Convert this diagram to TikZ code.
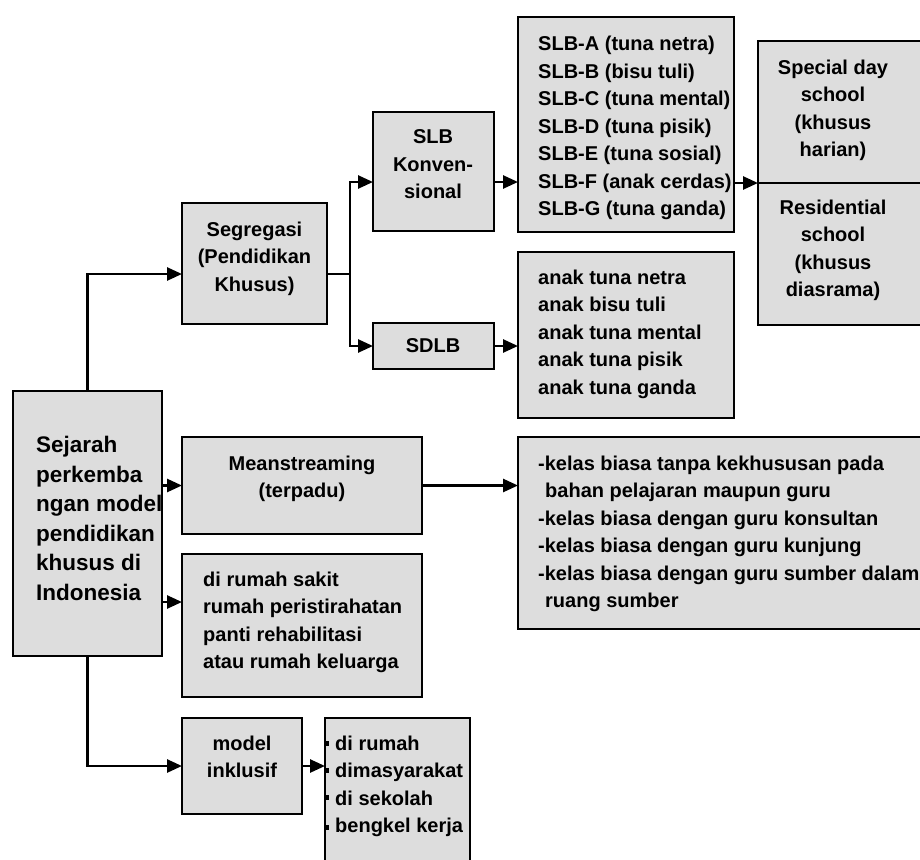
\documentclass[tikz,border=0pt]{standalone}
\usepackage{fontspec}
\setmainfont{Liberation Sans}
\usetikzlibrary{arrows.meta}
\definecolor{boxgray}{RGB}{221,221,221}
\begin{document}
\begin{tikzpicture}[x=1pt,y=-1pt,
  box/.style={draw=black,line width=2pt,fill=boxgray,inner sep=0pt,outer sep=0pt,anchor=north west},
  txt/.style={inner sep=0pt,font=\fontsize{20}{27.5}\selectfont\bfseries},
  bigtxt/.style={inner sep=0pt,font=\fontsize{22.5}{29.5}\selectfont\bfseries},
  conn/.style={line width=2.6pt,-{Triangle[length=15pt,width=13pt]}},
  wire/.style={line width=2.6pt}]
\useasboundingbox (0,0) rectangle (920,859);
\clip (0,0) rectangle (920,859);
\fill[white] (0,0) rectangle (920,859);

% boxes
\node[box,minimum width=149pt,minimum height=265pt] (main) at (13,391) {};
\node[box,minimum width=145pt,minimum height=121pt] (seg) at (182,203) {};
\node[box,minimum width=121pt,minimum height=119pt] (konv) at (373,112) {};
\node[box,minimum width=121pt,minimum height=46pt] (sdlb) at (373,323) {};
\node[box,minimum width=216pt,minimum height=215pt] (slb) at (518,17) {};
\node[box,minimum width=216pt,minimum height=166pt] (anak) at (518,252) {};
\node[box,minimum width=220pt,minimum height=284pt] (sp) at (758,41) {};
\node[box,minimum width=240pt,minimum height=97pt] (mean) at (182,437) {};
\node[box,minimum width=440pt,minimum height=192pt] (mlist) at (518,437) {};
\node[box,minimum width=240pt,minimum height=143pt] (rs) at (182,554) {};
\node[box,minimum width=120pt,minimum height=96pt] (model) at (182,718) {};
\node[box,minimum width=145pt,minimum height=170pt] (dr) at (325,718) {};

% texts
\node[bigtxt,anchor=north west,align=left] (mainT) at (36,436) {Sejarah\\perkemba\\ngan model\\pendidikan\\khusus di\\Indonesia};
\node[txt,anchor=north,align=center] (segT) at (254.5,221.5) {Segregasi\\(Pendidikan\\Khusus)};
\node[txt,anchor=north,align=center] (konvT) at (433,129.5) {SLB\\Konven-\\sional};
\node[txt] (sdlbT) at (433,346) {SDLB};
\node[txt,anchor=north west,align=left] (slbT) at (538,36) {SLB-A (tuna netra)\\SLB-B (bisu tuli)\\SLB-C (tuna mental)\\SLB-D (tuna pisik)\\SLB-E (tuna sosial)\\SLB-F (anak cerdas)\\SLB-G (tuna ganda)};
\node[txt,anchor=north west,align=left] (anakT) at (538,269.5) {anak tuna netra\\anak bisu tuli\\anak tuna mental\\anak tuna pisik\\anak tuna ganda};
\node[txt,anchor=north,align=center] (spT) at (833,59.5) {Special day\\school\\(khusus\\harian)};
\node[txt,anchor=north,align=center] (resT) at (833,199.5) {Residential\\school\\(khusus\\diasrama)};
\node[txt,anchor=north,align=center] (meanT) at (302,455.5) {Meanstreaming\\(terpadu)};
\node[txt,anchor=north west,align=left] (mlistT) at (538,455.5) {-kelas biasa tanpa kekhususan pada\\\hspace*{7pt}bahan pelajaran maupun guru\\-kelas biasa dengan guru konsultan\\-kelas biasa dengan guru kunjung\\-kelas biasa dengan guru sumber dalam\\\hspace*{7pt}ruang sumber};
\node[txt,anchor=north west,align=left] (rsT) at (203,571.5) {di rumah sakit\\rumah peristirahatan\\panti rehabilitasi\\atau rumah keluarga};
\node[txt,anchor=north,align=center] (modelT) at (242,735.5) {model\\inklusif};
\node[txt,anchor=north west,align=left] (drT) at (335,735.5) {di rumah\\dimasyarakat\\di sekolah\\bengkel kerja};

% small marks before the list items
\foreach \yy in {743,770,797,827} \fill (326,\yy-2.5) rectangle (328.5,\yy+2.5);

% divider of the school box
\draw[line width=2pt] (sp.west) -- (sp.east);

% connectors
\coordinate (segIn) at ([yshift=-10.5pt]seg.west);
\draw[conn] (main.north) |- (segIn);
\coordinate (br) at (segIn -| 350,0);
\draw[wire] (segIn -| seg.east) -- (br);
\coordinate (konvIn) at ([yshift=-10.5pt]konv.west);
\draw[conn] (br) |- (konvIn);
\draw[conn] (br) |- (sdlb.west);
\draw[conn] (konvIn -| konv.east) -- (konvIn -| slb.west);
\draw[conn] (sdlb.east) -- (sdlb.east -| anak.west);
\draw[conn] (sp.west -| slb.east) -- (sp.west);
\draw[conn] (mean.west -| main.east) -- (mean.west);
\draw[conn] (mean.east) -- (mean.east -| mlist.west);
\coordinate (rsIn) at ([yshift=23.5pt]rs.west);
\draw[conn] (rsIn -| main.east) -- (rsIn);
\draw[conn] (main.south) |- (model.west);
\draw[conn] (model.east) -- (model.east -| dr.west);
\end{tikzpicture}
\end{document}
